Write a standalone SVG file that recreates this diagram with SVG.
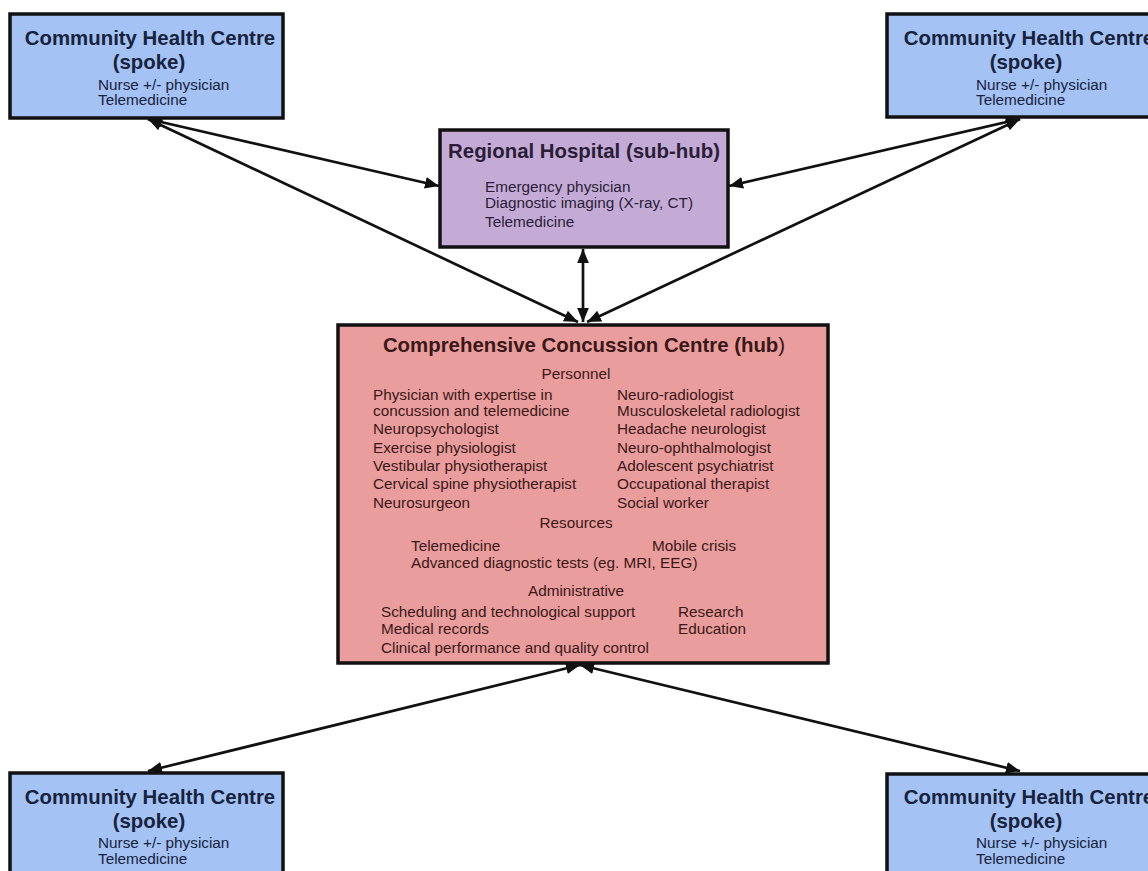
<svg xmlns="http://www.w3.org/2000/svg" width="1148" height="871" viewBox="0 0 1148 871">
  <style>
    .box { stroke: #111; stroke-width: 3.5; }
    .spoke { fill: #a4c2f4; }
    .sub { fill: #c4abd6; }
    .hub { fill: #ea9d9d; }
    text { font-family: "Liberation Sans", Arial, sans-serif; }
    .t { font-weight: bold; font-size: 20.4px; text-anchor: middle; }
    .b { font-size: 15.3px; }
    .c { font-size: 15.3px; text-anchor: middle; }
    .ts { fill: #17223d; }
    .tr { fill: #2a1d38; }
    .th { fill: #3a1818; }
    .conn { stroke: #111; stroke-width: 2.7; fill: none; marker-start: url(#ah); marker-end: url(#ah); }
  </style>
  <defs>
    <marker id="ah" viewBox="0 0 10 10" refX="10" refY="5" markerWidth="5.2" markerHeight="5.2" orient="auto-start-reverse" markerUnits="strokeWidth">
      <path d="M0,0.8 L10,5 L0,9.2 Z" fill="#111"/>
    </marker>
  </defs>
  <rect width="1148" height="871" fill="#fff"/>

  <!-- connectors -->
  <g id="connectors">
    <line class="conn" x1="148" y1="119" x2="439" y2="186"/>
    <line class="conn" x1="148" y1="119" x2="578" y2="322"/>
    <line class="conn" x1="1020" y1="119" x2="729" y2="186"/>
    <line class="conn" x1="1020" y1="119" x2="587" y2="322"/>
    <line class="conn" x1="583" y1="249" x2="583" y2="322"/>
    <line class="conn" x1="580" y1="665" x2="148" y2="771"/>
    <line class="conn" x1="580" y1="665" x2="1020" y2="771"/>
  </g>

  <!-- spoke, top left -->
  <g id="spoke-top-left">
    <rect class="box spoke" x="10" y="14" width="273" height="104"/>
    <text class="t ts" x="150" y="45">Community Health Centre</text>
    <text class="t ts" x="149" y="69">(spoke)</text>
    <text class="b ts" x="98" y="90">Nurse +/- physician</text>
    <text class="b ts" x="98" y="105">Telemedicine</text>
  </g>

  <!-- spoke, top right -->
  <g id="spoke-top-right">
    <rect class="box spoke" x="887" y="14" width="273" height="103"/>
    <text class="t ts" x="1029" y="45">Community Health Centre</text>
    <text class="t ts" x="1026" y="69">(spoke)</text>
    <text class="b ts" x="976" y="90">Nurse +/- physician</text>
    <text class="b ts" x="976" y="105">Telemedicine</text>
  </g>

  <!-- spoke, bottom left -->
  <g id="spoke-bottom-left">
    <rect class="box spoke" x="10" y="773" width="273" height="110"/>
    <text class="t ts" x="150" y="804">Community Health Centre</text>
    <text class="t ts" x="149" y="828">(spoke)</text>
    <text class="b ts" x="98" y="848">Nurse +/- physician</text>
    <text class="b ts" x="98" y="864">Telemedicine</text>
  </g>

  <!-- spoke, bottom right -->
  <g id="spoke-bottom-right">
    <rect class="box spoke" x="887" y="774" width="273" height="110"/>
    <text class="t ts" x="1029" y="804">Community Health Centre</text>
    <text class="t ts" x="1026" y="828">(spoke)</text>
    <text class="b ts" x="976" y="848">Nurse +/- physician</text>
    <text class="b ts" x="976" y="864">Telemedicine</text>
  </g>

  <!-- sub-hub -->
  <g id="regional-hospital">
    <rect class="box sub" x="440" y="130" width="288" height="117"/>
    <text class="t tr" x="584" y="158">Regional Hospital (sub-hub)</text>
    <text class="b tr" x="485" y="192">Emergency physician</text>
    <text class="b tr" x="485" y="208">Diagnostic imaging (X-ray, CT)</text>
    <text class="b tr" x="485" y="227">Telemedicine</text>
  </g>

  <!-- hub -->
  <g id="concussion-centre">
    <rect class="box hub" x="338" y="325" width="490" height="338"/>
    <text class="t th" x="584" y="352">Comprehensive Concussion Centre (hub<tspan font-weight="normal">)</tspan></text>
    <text class="c th" x="576" y="379">Personnel</text>
    <g class="b th">
      <text x="373" y="400">Physician with expertise in</text>
      <text x="373" y="416">concussion and telemedicine</text>
      <text x="373" y="434">Neuropsychologist</text>
      <text x="373" y="453">Exercise physiologist</text>
      <text x="373" y="471">Vestibular physiotherapist</text>
      <text x="373" y="489">Cervical spine physiotherapist</text>
      <text x="373" y="508">Neurosurgeon</text>
      <text x="617" y="400">Neuro-radiologist</text>
      <text x="617" y="416">Musculoskeletal radiologist</text>
      <text x="617" y="434">Headache neurologist</text>
      <text x="617" y="453">Neuro-ophthalmologist</text>
      <text x="617" y="471">Adolescent psychiatrist</text>
      <text x="617" y="489">Occupational therapist</text>
      <text x="617" y="508">Social worker</text>
    </g>
    <text class="c th" x="576" y="528">Resources</text>
    <g class="b th">
      <text x="411" y="551">Telemedicine</text>
      <text x="652" y="551">Mobile crisis</text>
      <text x="411" y="568">Advanced diagnostic tests (eg. MRI, EEG)</text>
    </g>
    <text class="c th" x="576" y="596">Administrative</text>
    <g class="b th">
      <text x="381" y="617">Scheduling and technological support</text>
      <text x="678" y="617">Research</text>
      <text x="381" y="634">Medical records</text>
      <text x="678" y="634">Education</text>
      <text x="381" y="653">Clinical performance and quality control</text>
    </g>
  </g>
</svg>
